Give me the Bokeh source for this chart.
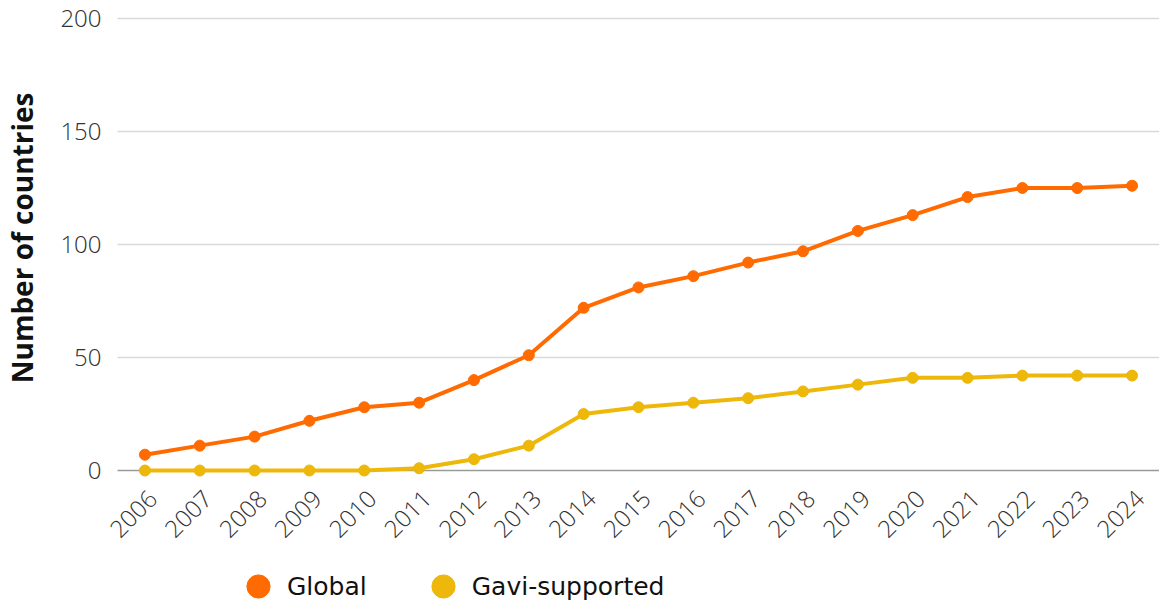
import math
from bokeh.plotting import figure
from bokeh.models import Legend, LegendItem, Range1d, ColumnDataSource, Title
from bokeh.core.properties import value
from bokeh.embed import file_html
from bokeh.resources import INLINE

years = [str(y) for y in range(2006, 2025)]
global_vals = [7, 11, 15, 22, 28, 30, 40, 51, 72, 81, 86, 92, 97, 106, 113, 121, 125, 125, 126]
gavi_vals = [0, 0, 0, 0, 0, 1, 5, 11, 25, 28, 30, 32, 35, 38, 41, 41, 42, 42, 42]
y_ticks = [0, 50, 100, 150, 200]
series_names = ["Global", "Gavi-supported"]
y_title = "Number of countries"

ORANGE = "#FF6B00"
YELLOW = "#EDB80A"
LIGHT = "'Open Sans Light', 'Open Sans'"

n = len(years)
idx = list(range(n))
x_lo, x_hi = -0.5, n - 0.5

p = figure(x_range=Range1d(x_lo - 0.182, x_hi), y_range=Range1d(-58.4, 202.65),
           width=1159, height=602, output_backend="svg", toolbar_location=None,
           title=None, min_border_top=12, min_border_right=0,
           min_border_left=107, min_border_bottom=0)
p.outline_line_color = None
p.grid.visible = False
p.xaxis.visible = False

src = ColumnDataSource(dict(x=idx, year=years, g=global_vals, v=gavi_vals,
                            zero=[0] * n))

# horizontal grid lines and zero baseline spanning the category band
grid_y = y_ticks[1:]
p.segment(x0=[x_lo] * len(grid_y), x1=[x_hi] * len(grid_y), y0=grid_y, y1=grid_y,
          line_color="#d9d9d9", line_width=1.5)
p.segment(x0=[x_lo], x1=[x_hi], y0=[y_ticks[0]], y1=[y_ticks[0]],
          line_color="#9a9a9a", line_width=1.5)

p.line("x", "g", source=src, line_color=ORANGE, line_width=4)
r1 = p.scatter("x", "g", source=src, size=11, fill_color=ORANGE, line_color=ORANGE)
p.line("x", "v", source=src, line_color=YELLOW, line_width=4)
r2 = p.scatter("x", "v", source=src, size=11, fill_color=YELLOW, line_color=YELLOW)

# rotated category labels under the zero line
p.text("x", "zero", text="year", source=src, angle=math.pi / 4,
       text_align="right", text_baseline="middle", x_offset=8, y_offset=24,
       text_font=value(LIGHT), text_font_size="24px", text_color="#333333")

p.yaxis.ticker = y_ticks
p.yaxis.axis_line_color = None
p.yaxis.major_tick_line_color = None
p.yaxis.minor_tick_line_color = None
p.yaxis.major_label_text_font = LIGHT
p.yaxis.major_label_text_font_size = "24px"
p.yaxis.major_label_text_color = "#333333"
p.yaxis.major_label_standoff = 0
p.yaxis.axis_label = " "
p.yaxis.axis_label_text_font_size = "4px"
p.yaxis.axis_label_standoff = 8

p.add_layout(Title(text=y_title, align="right", offset=80,
                   vertical_align="middle", standoff=0,
                   text_font="Open Sans", text_font_style="bold",
                   text_font_size="28px", text_color="#111111"), "left")

legend = Legend(items=[LegendItem(label=series_names[0], renderers=[r1]),
                       LegendItem(label=series_names[1], renderers=[r2])],
                orientation="horizontal", location=(122, -13),
                label_text_font="DejaVu Sans", label_text_font_size="25px",
                label_text_color="#111111", glyph_width=58, glyph_height=58,
                label_standoff=-2, spacing=47, border_line_color=None,
                background_fill_alpha=0, padding=0, margin=0)
p.add_layout(legend, "center")

open("out.html", "w").write(file_html(p, INLINE))
